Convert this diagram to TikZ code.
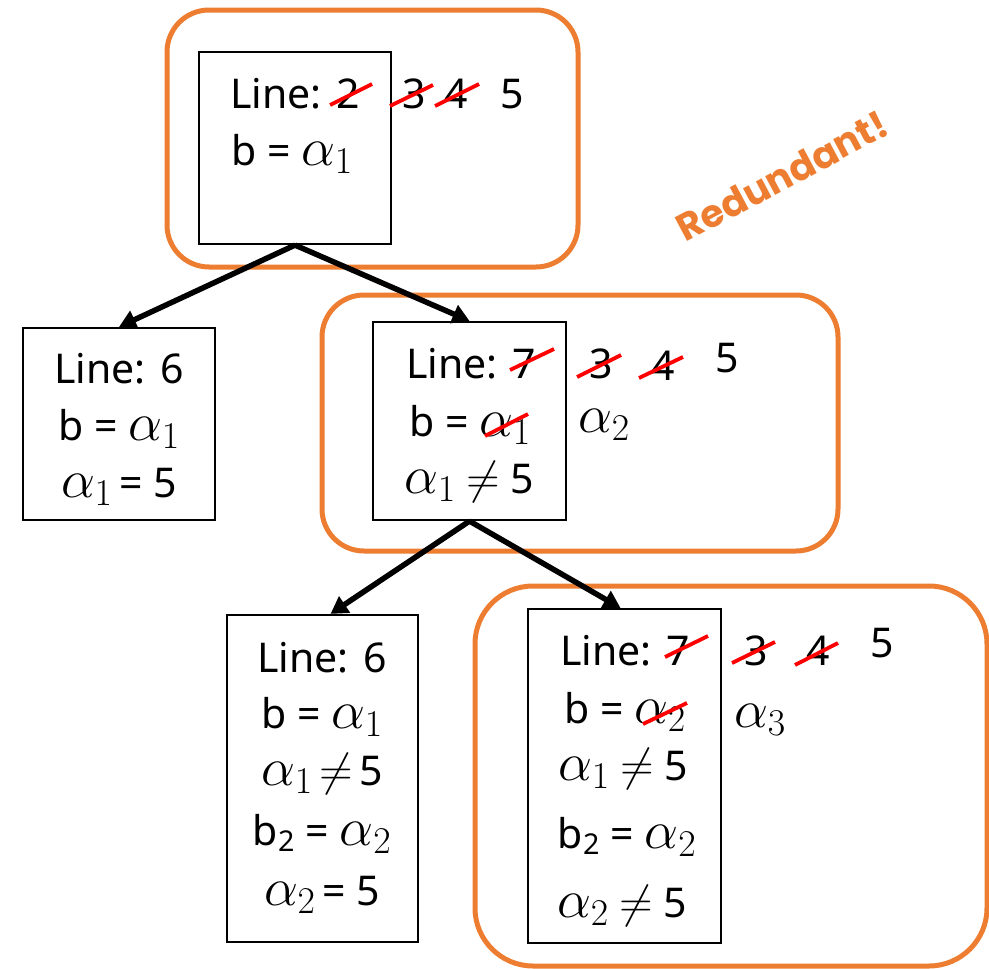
\RequirePackage{fix-cm}
\documentclass[tikz,border=0pt]{standalone}
\usepackage[no-math]{fontspec}
\setmainfont{Noto Sans}
\newfontfamily\bannerfont{Poppins}
\usetikzlibrary{arrows.meta}
\definecolor{accent}{RGB}{237,125,49}
\definecolor{strikered}{RGB}{255,0,0}
% larger math so the alphas sit at the height of the sans text
\newcommand\ma[1]{{\fontsize{54}{60}\selectfont$#1$}}
\newcommand\nq{{\fontsize{46}{50}\selectfont$\neq$}}

\begin{document}
\begin{tikzpicture}[x=1pt,y=-1pt,
  frame/.style={draw=accent, line width=5pt, rounded corners=42pt},
  state/.style={draw, line width=2.2pt, inner sep=0pt},
  txt/.style={anchor=base, inner sep=0pt, font=\fontsize{41}{48}\selectfont},
  strike/.style={draw=strikered, line width=3.8pt},
  edge/.style={line width=5.5pt, -{Triangle[length=17pt,width=19pt]}}]
\useasboundingbox (0,0) rectangle (989,969);

% groups of states
\draw[frame] (167,10) rectangle (578,267);
\draw[frame] (322,295) rectangle (838,551);
\draw[frame, rounded corners=58pt] (475,586) rectangle (987,966);

% states
\node[state, minimum width=192pt, minimum height=192pt] (A) at (295,148) {};
\node[state, minimum width=192pt, minimum height=192pt] (B) at (119,424) {};
\node[state, minimum width=193pt, minimum height=198pt] (C) at (469.5,421) {};
\node[state, minimum width=191pt, minimum height=327pt] (D) at (322.5,778.5) {};
\node[state, minimum width=193pt, minimum height=334pt] (E) at (624.5,776) {};

% branches
\draw[edge] (A.south) -- (B.north);
\draw[edge] (A.south) -- (C.north);
\draw[edge] (C.south) -- ([xshift=8pt]D.north);
\draw[edge] (C.south) -- ([xshift=-4pt]E.north);

% root state
\node[txt] (a1) at (295,108) {Line: 2};
\node[txt] (a2) at (292,165) {b = \ma{\alpha_1}};
\node[txt] (a3) at (414,108) {3};
\node[txt] (a4) at (456,108) {4};
\node[txt] (a5) at (512,108) {5};
\draw[strike] (330,105) -- (372,84);
\draw[strike] (390,106) -- (433,85);
\draw[strike] (435,106) -- (479,84);

% left child
\node[txt] (b1) at (119,383) {Line: 6};
\node[txt] (b2) at (119,440) {b = \ma{\alpha_1}};
\node[txt] (b3) at (119,497) {\ma{\alpha_1}\,= 5};

% right child
\node[txt] (c1) at (471,378) {Line: 7};
\node[txt] (c2) at (470,436) {b = \ma{\alpha_1}};
\node[txt] (c3) at (469,493) {\ma{\alpha_1} \nq{} 5};
\node[txt] (c4) at (601,378) {3};
\node[txt] (c5) at (663,380) {4};
\node[txt] (c6) at (727,372) {5};
\node[txt] (c7) at (604,432) {\ma{\alpha_2}};
\draw[strike] (510,370) -- (554,349);
\draw[strike] (577,377) -- (621,355);
\draw[strike] (639,378) -- (683,357);
\draw[strike] (485,436) -- (528,414);

% grandchildren
\node[txt] (d1) at (322,672) {Line: 6};
\node[txt] (d2) at (322,728) {b = \ma{\alpha_1}};
\node[txt] (d3) at (322,785) {\ma{\alpha_1}\,\nq\,5};
\node[txt] (d4) at (322,845) {b\textsubscript{2} = \ma{\alpha_2}};
\node[txt] (d5) at (322,905) {\ma{\alpha_2}\,= 5};

\node[txt] (e1) at (625,665) {Line: 7};
\node[txt] (e2) at (625,723) {b = \ma{\alpha_2}};
\node[txt] (e3) at (623,780) {\ma{\alpha_1} \nq{} 5};
\node[txt] (e4) at (627,848) {b\textsubscript{2} = \ma{\alpha_2}};
\node[txt] (e5) at (622,917) {\ma{\alpha_2} \nq{} 5};
\node[txt] (e6) at (756,665) {3};
\node[txt] (e7) at (818,665) {4};
\node[txt] (e8) at (882,657) {5};
\node[txt] (e9) at (760,727) {\ma{\alpha_3}};
\draw[strike] (665,657) -- (708,636);
\draw[strike] (732,663) -- (775,642);
\draw[strike] (795,665) -- (838,643);
\draw[strike] (643,724) -- (687,703);

\node[font=\bannerfont\bfseries\fontsize{38}{44}\selectfont, text=accent,
      rotate=28, inner sep=0pt] (tag) at (782,176) {Redundant!};
\end{tikzpicture}
\end{document}
